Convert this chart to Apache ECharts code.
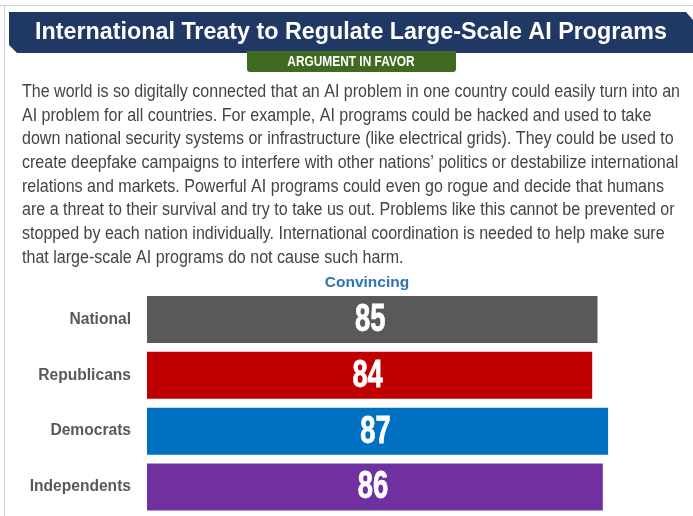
<!DOCTYPE html>
<html>
<head>
<meta charset="utf-8">
<script src="https://cdn.jsdelivr.net/npm/echarts@6/dist/echarts.min.js"></script>
<style>
  html, body { margin: 0; padding: 0; background: #ffffff; }
  #chart { width: 693px; height: 516px; }
</style>
</head>
<body>
<div id="chart"></div>
<script>
// Survey groups and the share who found the argument convincing
const groups = ['National', 'Republicans', 'Democrats', 'Independents'];
const convincing = [85, 84, 87, 86];
const barColors = ['#595959', '#c00000', '#0070c0', '#7030a0'];

const headline = 'International Treaty to Regulate Large-Scale AI Programs';
const tabText = 'ARGUMENT IN FAVOR';
const seriesName = 'Convincing';
const argumentLines = [
  'The world is so digitally connected that an AI problem in one country could easily turn into an',
  'AI problem for all countries. For example, AI programs could be hacked and used to take',
  'down national security systems or infrastructure (like electrical grids). They could be used to',
  'create deepfake campaigns to interfere with other nations\u2019 politics or destabilize international',
  'relations and markets. Powerful AI programs could even go rogue and decide that humans',
  'are a threat to their survival and try to take us out. Problems like this cannot be prevented or',
  'stopped by each nation individually. International coordination is needed to help make sure',
  'that large-scale AI programs do not cause such harm.'
];

const chart = echarts.init(document.getElementById('chart'));

const sansFamily = '"Liberation Sans", Arial, sans-serif';
const bodyFont = '17.5px ' + sansFamily;

// The paragraph is set in a condensed face: squeeze the regular sans so the
// first line spans the text column.
const measureCtx = document.createElement('canvas').getContext('2d');
measureCtx.font = bodyFont;
const bodyScale = 658 / measureCtx.measureText(argumentLines[0]).width;

const paragraph = argumentLines.map((line, i) => ({
  type: 'text',
  x: 22,
  y: 92 + i * 23.7,
  scaleX: bodyScale,
  style: {
    text: line,
    fill: '#444444',
    font: bodyFont,
    textAlign: 'left',
    textVerticalAlign: 'middle'
  }
}));

chart.setOption({
  animation: false,
  graphic: [
    // outer frame
    { type: 'line', shape: { x1: 0, y1: 5.5, x2: 693, y2: 5.5 }, style: { stroke: '#cfcfcf', lineWidth: 1 } },
    { type: 'line', shape: { x1: 4.5, y1: 5, x2: 4.5, y2: 516 }, style: { stroke: '#cfcfcf', lineWidth: 1 } },
    // header banner with bevelled corners
    {
      type: 'polygon',
      shape: { points: [[9, 12], [686, 12], [693, 20], [693, 53], [17, 53], [9, 45]] },
      style: { fill: '#1f3864' }
    },
    {
      type: 'text',
      x: 351, y: 33,
      style: {
        text: headline,
        fill: '#ffffff',
        font: 'bold 23.3px ' + sansFamily,
        textAlign: 'center', textVerticalAlign: 'middle'
      }
    },
    // green tab under the banner
    {
      type: 'rect',
      shape: { x: 247, y: 51, width: 209, height: 21, r: [0, 0, 3, 3] },
      style: { fill: '#3f6a1f' }
    },
    {
      type: 'text',
      x: 351, y: 62,
      scaleX: 0.85,
      style: {
        text: tabText,
        fill: '#ffffff',
        font: 'bold 14px ' + sansFamily,
        textAlign: 'center', textVerticalAlign: 'middle'
      }
    },
    ...paragraph,
    {
      type: 'text',
      x: 367, y: 283,
      style: {
        text: seriesName,
        fill: '#2e75b6',
        font: 'bold 15.5px ' + sansFamily,
        textAlign: 'center', textVerticalAlign: 'middle'
      }
    }
  ],
  grid: { left: 147, right: 16, top: 291.6, bottom: 1.1, containLabel: false },
  xAxis: {
    type: 'value', min: 0, max: 100, show: false
  },
  yAxis: {
    type: 'category',
    data: groups,
    inverse: true,
    axisLine: { show: false },
    axisTick: { show: false },
    axisLabel: {
      margin: 16,
      color: '#595959',
      fontWeight: 'bold',
      fontSize: 15.6,
      fontFamily: sansFamily
    }
  },
  series: [
    {
      type: 'bar',
      name: seriesName,
      data: convincing.map((v, i) => ({ value: v, itemStyle: { color: barColors[i] } })),
      barWidth: 47
    },
    {
      // condensed white value labels centred on each bar
      type: 'custom',
      coordinateSystem: 'cartesian2d',
      data: convincing.map((v, i) => [v, i]),
      encode: { x: 0, y: 1 },
      z: 5,
      renderItem: function (params, api) {
        const value = api.value(0);
        const start = api.coord([0, api.value(1)]);
        const end = api.coord([value, api.value(1)]);
        return {
          type: 'text',
          x: (start[0] + end[0]) / 2 - 2,
          y: end[1] + 1,
          scaleX: 0.72,
          style: {
            text: String(value),
            fill: '#ffffff',
            font: 'bold 38px ' + sansFamily,
            align: 'center',
            verticalAlign: 'middle',
            stroke: '#ffffff',
            lineWidth: 0.8,
            shadowColor: 'rgba(0,0,0,0.55)',
            shadowBlur: 3,
            shadowOffsetX: 1.5,
            shadowOffsetY: 1.5
          }
        };
      }
    }
  ]
});
</script>
</body>
</html>
